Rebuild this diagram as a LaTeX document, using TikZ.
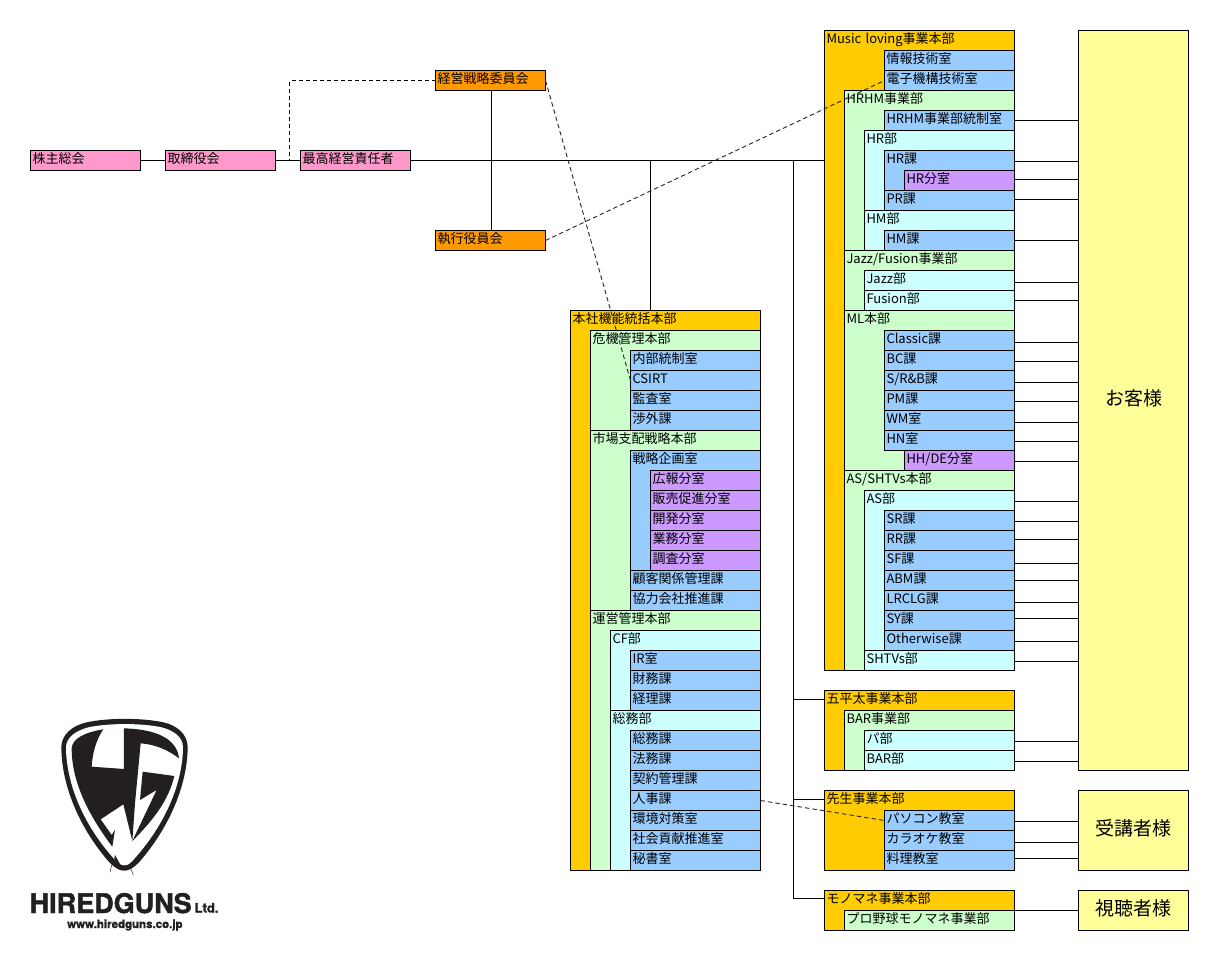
\documentclass[tikz,border=0pt]{standalone}
\usepackage{fontspec}
\setmainfont{Noto Sans CJK JP}
\newfontfamily\logofont[BoldFeatures={FakeBold=1.6}]{TeX Gyre Heros}
\usetikzlibrary{positioning}
\definecolor{cgold}{HTML}{FFCC00}
\definecolor{cmint}{HTML}{CCFFCC}
\definecolor{caqua}{HTML}{CCFFFF}
\definecolor{cblue}{HTML}{99CCFF}
\definecolor{cviolet}{HTML}{CC99FF}
\definecolor{cpink}{HTML}{FF99CC}
\definecolor{corange}{HTML}{FF9900}
\definecolor{clemon}{HTML}{FFFF99}
\definecolor{ctinta}{HTML}{231F20}

\begin{document}
\begin{tikzpicture}[
  x=1pt, y=-1pt,
  font=\fontsize{13}{15}\selectfont,
  caixa/.style 2 args={draw=black, line width=1pt, outer sep=0pt, inner xsep=2pt, inner ysep=0pt, align=left, text width=#1pt-4pt, text height=13.2pt, text depth=#2pt-13.2pt, anchor=north east},
  topo/.style={caixa={110}{20}, fill=cpink, anchor=north west},
  comite/.style={caixa={110}{20}, fill=corange, anchor=north west},
  honbu/.style={caixa={190}{#1}, fill=cgold, anchor=north west},
  jigyo/.style={caixa={170}{#1}, fill=cmint}, jigyo/.default=20,
  bu/.style={caixa={150}{#1}, fill=caqua}, bu/.default=20,
  ka/.style={caixa={130}{#1}, fill=cblue}, ka/.default=20,
  bunshitsu/.style={caixa={110}{20}, fill=cviolet},
  cliente/.style={draw=black, line width=1pt, outer sep=0pt, inner sep=0pt, fill=clemon, minimum width=110pt, minimum height=#1, text height=16pt, text depth=6.6pt, anchor=north west, font=\fontsize{19}{22}\selectfont},
  dentro/.style={below=20pt of #1.north east, anchor=north east},
  sob/.style={below=0pt of #1.south east, anchor=north east},
  linha/.style={line width=1pt, draw=black},
  tracejado/.style={line width=1pt, draw=black, dash pattern=on 4pt off 3pt},
  obliquo/.style={line width=0.9pt, draw=black!85, dash pattern=on 4.5pt off 3pt}]
\useasboundingbox (0,0) rectangle (1219,961);

% main chain
\node[topo] (soukai) at (30.5,150.5) {株主総会};
\node[topo, right=25pt of soukai.north east, anchor=north west] (torishimari) {取締役会};
\node[topo, right=25pt of torishimari.north east, anchor=north west] (ceo) {最高経営責任者};
\node[comite] (senryaku) at (435.5,70.5) {経営戦略委員会};
\node[comite] (shikkou) at (435.5,230.5) {執行役員会};

% head office
\node[honbu=560] (honsha) at (570.5,310.5) {本社機能統括本部};
\node[jigyo=100, dentro=honsha] (kiki) {危機管理本部};
\node[ka, dentro=kiki] (naibu) {内部統制室};
\node[ka, sob=naibu] (csirt) {CSIRT};
\node[ka, sob=csirt] (kansa) {監査室};
\node[ka, sob=kansa] (shougai) {渉外課};
\node[jigyo=180, sob=kiki] (shijou) {市場支配戦略本部};
\node[ka=120, dentro=shijou] (kikaku) {戦略企画室};
\node[bunshitsu, dentro=kikaku] (kouhou) {広報分室};
\node[bunshitsu, sob=kouhou] (hanbai) {販売促進分室};
\node[bunshitsu, sob=hanbai] (kaihatsu) {開発分室};
\node[bunshitsu, sob=kaihatsu] (gyoumu) {業務分室};
\node[bunshitsu, sob=gyoumu] (chousa) {調査分室};
\node[ka, sob=kikaku] (kokyaku) {顧客関係管理課};
\node[ka, sob=kokyaku] (kyouryoku) {協力会社推進課};
\node[jigyo=260, sob=shijou] (unei) {運営管理本部};
\node[bu=80, dentro=unei] (cf) {CF部};
\node[ka, dentro=cf] (ir) {IR室};
\node[ka, sob=ir] (zaimu) {財務課};
\node[ka, sob=zaimu] (keiri) {経理課};
\node[bu=160, sob=cf] (soumubu) {総務部};
\node[ka, dentro=soumubu] (soumu) {総務課};
\node[ka, sob=soumu] (houmu) {法務課};
\node[ka, sob=houmu] (keiyaku) {契約管理課};
\node[ka, sob=keiyaku] (jinji) {人事課};
\node[ka, sob=jinji] (kankyou) {環境対策室};
\node[ka, sob=kankyou] (shakai) {社会貢献推進室};
\node[ka, sob=shakai] (hisho) {秘書室};

% music
\node[honbu=640] (music) at (824.5,30.5) {Music loving事業本部};
\node[ka, dentro=music] (jouhou) {情報技術室};
\node[ka, sob=jouhou] (denshi) {電子機構技術室};
\node[jigyo=160, sob=denshi] (hrhm) {HRHM事業部};
\node[ka, dentro=hrhm] (hrhmst) {HRHM事業部統制室};
\node[bu=80, sob=hrhmst] (hrbu) {HR部};
\node[ka=40, dentro=hrbu] (hrka) {HR課};
\node[bunshitsu, dentro=hrka] (hrbun) {HR分室};
\node[ka, sob=hrka] (prka) {PR課};
\node[bu=40, sob=hrbu] (hmbu) {HM部};
\node[ka, dentro=hmbu] (hmka) {HM課};
\node[jigyo=60, sob=hrhm] (jazzfusion) {Jazz/Fusion事業部};
\node[bu, dentro=jazzfusion] (jazz) {Jazz部};
\node[bu, sob=jazz] (fusion) {Fusion部};
\node[jigyo=160, sob=jazzfusion] (ml) {ML本部};
\node[ka, dentro=ml] (classic) {Classic課};
\node[ka, sob=classic] (bc) {BC課};
\node[ka, sob=bc] (srb) {S/R\&B課};
\node[ka, sob=srb] (pm) {PM課};
\node[ka, sob=pm] (wm) {WM室};
\node[ka, sob=wm] (hn) {HN室};
\node[bunshitsu, sob=hn] (hhde) {HH/DE分室};
\node[jigyo=200, sob=ml] (asshtvs) {AS/SHTVs本部};
\node[bu=160, dentro=asshtvs] (asbu) {AS部};
\node[ka, dentro=asbu] (sr) {SR課};
\node[ka, sob=sr] (rr) {RR課};
\node[ka, sob=rr] (sf) {SF課};
\node[ka, sob=sf] (abm) {ABM課};
\node[ka, sob=abm] (lrclg) {LRCLG課};
\node[ka, sob=lrclg] (sy) {SY課};
\node[ka, sob=sy] (otherwise) {Otherwise課};
\node[bu, sob=asbu] (shtvs) {SHTVs部};

% small divisions
\node[honbu=80] (gohei) at (824.5,690.5) {五平太事業本部};
\node[jigyo=60, dentro=gohei] (bar) {BAR事業部};
\node[bu, dentro=bar] (pabu) {パ部};
\node[bu, sob=pabu] (barbu) {BAR部};
\node[honbu=80] (sensei) at (824.5,790.5) {先生事業本部};
\node[ka, dentro=sensei] (pasokon) {パソコン教室};
\node[ka, sob=pasokon] (karaoke) {カラオケ教室};
\node[ka, sob=karaoke] (ryouri) {料理教室};
\node[honbu=40] (monomane) at (824.5,890.5) {モノマネ事業本部};
\node[jigyo, dentro=monomane] (yakyuu) {プロ野球モノマネ事業部};

% customers
\node[cliente=740pt] (okyaku) at (1078.5,30.5) {お客様};
\node[cliente=80pt] (jukou) at (1078.5,790.5) {受講者様};
\node[cliente=40pt] (shichou) at (1078.5,890.5) {視聴者様};

% solid lines
\coordinate (ramo) at ([xshift=14pt]torishimari.east);
\coordinate (ramohq) at (650.5,160.5);
\coordinate (ramobu) at (793.5,160.5);
\draw[linha] (soukai) -- (torishimari);
\draw[linha] (torishimari) -- (ceo);
\draw[linha] (ceo.east) -- (ceo.east -| music.west);
\draw[linha] (senryaku.south -| 491.5,0) -- (shikkou.north -| 491.5,0);
\draw[linha] (ramohq) -- (ramohq |- honsha.north);
\draw[linha] (ramobu) |- ([yshift=12pt]monomane.west);
\draw[linha] ([yshift=-9pt]gohei.north west) -- ([yshift=-9pt]gohei.north west -| ramobu);
\draw[linha] ([yshift=-9pt]sensei.north west) -- ([yshift=-9pt]sensei.north west -| ramobu);
\foreach \bx/\dy in {hrhmst/0, hrka/9, hrbun/1, prka/1, hmka/0, jazz/-2, fusion/0, classic/-2, bc/-1, srb/-2, pm/-1, wm/-2, hn/-1, hhde/-1, asbu/69, sr/-1, rr/1, sf/-3, abm/0, lrclg/-2, sy/2, otherwise/-1, shtvs/-1, pabu/-1, barbu/-1}
  \draw[linha] ([yshift=\dy pt]\bx.east) -- ([yshift=\dy pt]\bx.east -| okyaku.west);
\foreach \bx/\dy in {pasokon/-1, karaoke/-2, ryouri/2}
  \draw[linha] ([yshift=\dy pt]\bx.east) -- ([yshift=\dy pt]\bx.east -| jukou.west);
\draw[linha] (yakyuu.north east) -- (yakyuu.north east -| shichou.west);

% dashed lines
\draw[tracejado] (senryaku.west) -| (ramo);
\draw[obliquo] (senryaku.east) -- (csirt.west);
\draw[obliquo] (shikkou.east) -- (denshi.west);
\draw[obliquo] (jinji.east) -- (pasokon.west);

% logo
\begin{scope}[shift={(55,715)}, x=0.3333pt, y=-0.3333pt]
\fill[ctinta] (19,95) .. controls (20,60) and (50,32) .. (95,22) .. controls (160,8) and (260,8) .. (325,22) .. controls (370,32) and (397,60) .. (398,95) .. controls (398,200) and (350,330) .. (252,442) .. controls (232,462) and (220,467) .. (208,467) .. controls (195,467) and (183,462) .. (163,442) .. controls (65,330) and (19,200) .. (19,95) -- cycle;
\fill[white] (33,95) .. controls (35,67) and (62,47) .. (100,37) .. controls (160,24) and (260,24) .. (320,37) .. controls (358,47) and (383,67) .. (384,95) .. controls (384,195) and (338,318) .. (241,428) .. controls (225,447) and (218,451) .. (208,451) .. controls (198,451) and (190,447) .. (174,428) .. controls (77,318) and (33,195) .. (33,95) -- cycle;
\fill[ctinta] (50,100) .. controls (52,70) and (90,52) .. (145,43) .. controls (122,75) and (112,120) .. (110,155) -- (207,162) -- (207,40) .. controls (280,42) and (365,60) .. (372,130) .. controls (340,105) and (300,88) .. (257,85) -- (240,265) -- (232,378) -- (205,268) -- (137,313) -- (170,360) -- (180,345) -- (172,395) .. controls (100,300) and (50,200) .. (50,100) -- cycle;
\fill[ctinta] (263,170) -- (358,183) .. controls (340,260) and (290,320) .. (232,378) -- (305,225) -- (255,255) -- cycle;
\fill[ctinta] (180,420) -- (205,465) -- (195,465) -- (178,432) -- cycle;
\draw[ctinta, line width=0.5pt] (170,450) -- (165,472) (225,455) -- (235,480);
\end{scope}
\node[anchor=base west, inner sep=0pt, font=\logofont\bfseries\fontsize{27}{30}\selectfont, text=ctinta] (logoname) at (29.5,913) {HIREDGUNS};
\node[anchor=base west, inner sep=0pt, font=\logofont\bfseries\fontsize{13}{15}\selectfont, text=ctinta] (logoltd) at (194.5,912.5) {Ltd.};
\node[anchor=base west, inner sep=0pt, font=\logofont\bfseries\fontsize{11.5}{13}\selectfont, text=ctinta] (logourl) at (67,928) {www.hiredguns.co.jp};
\end{tikzpicture}
\end{document}
